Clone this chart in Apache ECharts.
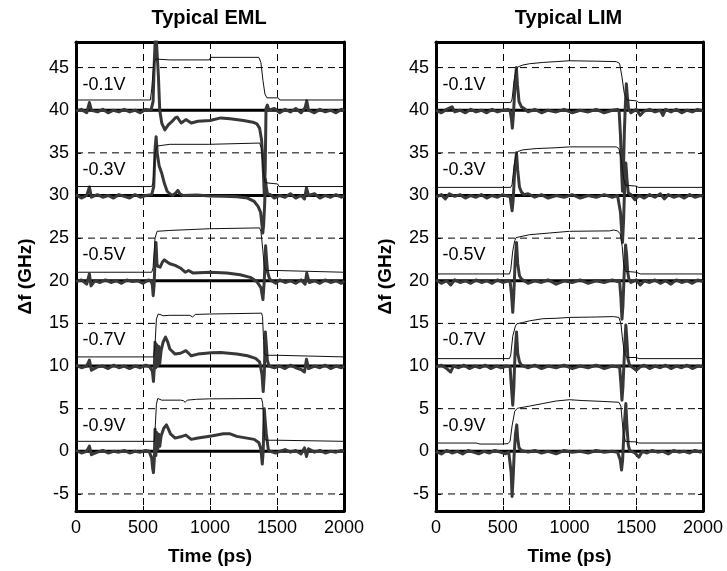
<!DOCTYPE html>
<html><head><meta charset="utf-8">
<script src="https://cdn.jsdelivr.net/npm/echarts@6/dist/echarts.min.js"></script>
<style>html,body{margin:0;padding:0;background:#fff}#c{width:727px;height:571px}</style>
</head><body><div id="c"></div>
<script>
const xTicks = [0, 500, 1000, 1500, 2000];
const yTicks = [-5, 0, 5, 10, 15, 20, 25, 30, 35, 40, 45];
const offsets = [40, 30, 20, 10, 0];
const voltages = ['-0.1V', '-0.3V', '-0.5V', '-0.7V', '-0.9V'];
const panelTitles = ['Typical EML', 'Typical LIM'];

// ---- Typical EML : thin (optical power) traces ----
const emlThin01 = [[0,41.2],[555,41.2],[565,42.5],[580,45.5],[595,46.0],[700,45.9],[995,45.9],[1005,46.2],[1365,46.2],[1380,45.6],[1395,43.5],[1410,41.9],[1425,41.45],[1510,41.45],[1520,41.2],[2000,41.2]];
const emlThin03 = [[0,31.05],[565,31.05],[575,31.5],[590,35],[605,35.8],[700,36.0],[995,36.0],[1005,36.15],[1370,36.15],[1385,35.5],[1398,33.0],[1410,31.5],[1420,31.35],[1505,31.35],[1515,31.05],[2000,31.05]];
const emlThin05 = [[0,21.0],[565,21.0],[575,21.5],[590,25],[605,25.8],[700,25.9],[850,26.0],[995,26.1],[1005,26.2],[1370,26.2],[1380,25.8],[1395,23.5],[1405,21.6],[1420,21.2],[1505,21.2],[1515,21.0],[2000,21.0]];
const emlThin07 = [[0,11.07],[580,11.07],[590,12.5],[600,15.5],[613,16.1],[635,16.0],[650,15.9],[700,15.95],[850,15.95],[870,15.75],[890,16.05],[995,16.1],[1005,16.2],[1385,16.2],[1392,15.8],[1400,13],[1405,11.4],[1420,11.26],[1505,11.26],[1515,11.07],[2000,11.07]];
const emlThin09 = [[0,1.17],[585,1.17],[592,3],[600,5.5],[610,6.2],[640,6.0],[780,6.0],[800,5.95],[815,5.75],[830,6.0],[900,6.1],[995,6.15],[1005,6.2],[1385,6.2],[1393,5.6],[1397,4.7],[1405,1.8],[1415,1.3],[1505,1.3],[1515,1.17],[2000,1.17]];

// ---- Typical EML : thick (chirp) traces ----
const emlChirp01 = [[0,39.9],[40,40.1],[80,39.7],[100,40.9],[115,40.0],[160,39.8],[200,40.1],[240,39.7],[280,40.0],[320,39.8],[360,40.1],[400,39.8],[440,40.0],[480,39.7],[520,40.1],[560,40.0],
  [575,41],[585,46],[595,49.5],[605,49.5],[615,44],[625,40],[640,38.5],[663,37.7],[690,38.3],[715,38.65],[740,39.1],[755,39.2],[785,38.5],[820,38.9],[860,38.5],[910,38.7],[1000,38.8],[1080,39.1],[1150,39.0],[1250,38.8],[1320,38.6],[1350,38.4],[1370,37.9],[1385,36.5],[1395,34],[1405,30.2],[1412,33],[1418,40.2],[1428,40.6],[1440,40.0],
  [1450,39.8],[1480,40.2],[1520,39.7],[1560,40.1],[1600,39.8],[1640,40.2],[1680,39.7],[1710,40.3],[1722,41.1],[1735,40.0],[1780,39.7],[1820,40.1],[1860,39.8],[1900,40.0],[1940,39.7],[1980,40.1],[2000,39.9]];
const emlChirp03 = [[0,30.1],[40,29.7],[80,30.0],[100,31.0],[115,29.8],[160,30.1],[200,29.8],[240,30.0],[280,29.7],[320,30.1],[360,29.9],[400,29.7],[440,30.1],[480,29.8],[520,30.0],[565,30.1],
  [580,31],[590,35.5],[598,36.9],[606,35],[620,33.5],[640,32.6],[660,31.4],[680,30.5],[700,30.2],[720,30.0],[745,30.3],[760,30.6],[775,30.2],[800,30.0],[900,30.05],[1000,29.95],[1100,29.9],[1200,29.85],[1280,29.7],[1330,29.3],[1360,28.7],[1378,28.0],[1388,26.5],[1394,25.6],[1400,26.5],[1408,29],[1414,31.9],[1420,31.0],[1428,30.2],
  [1450,30.1],[1480,29.7],[1520,30.0],[1560,29.8],[1600,30.2],[1640,29.7],[1680,30.0],[1705,29.6],[1720,30.9],[1735,30.0],[1780,30.2],[1820,29.7],[1860,30.0],[1900,29.8],[1940,30.1],[1980,29.8],[2000,30.0]];
const emlChirp05 = [[0,19.9],[40,20.1],[80,19.6],[100,20.8],[112,19.4],[140,20.0],[180,19.8],[220,20.1],[260,19.8],[300,20.0],[340,19.7],[380,20.1],[420,19.9],[460,20.0],[500,19.7],[540,20.1],[560,20.0],
  [570,19.5],[576,18.25],[583,19.5],[590,22.5],[597,24.5],[604,22],[610,21.7],[628,21.6],[645,22.2],[660,22.45],[680,22.2],[700,22.0],[740,21.8],[778,21.5],[815,21.0],[840,21.2],[875,20.9],[1000,21.0],[1125,20.9],[1225,20.7],[1300,20.4],[1350,19.9],[1380,19.2],[1395,17.8],[1405,20],[1415,24.1],[1422,22.5],[1430,21.0],[1445,20.2],
  [1460,20.0],[1490,19.7],[1520,20.1],[1560,19.8],[1600,20.0],[1640,19.7],[1680,20.1],[1710,19.6],[1722,20.9],[1740,19.8],[1780,20.0],[1820,19.7],[1860,20.1],[1900,19.8],[1940,20.0],[1980,19.7],[2000,20.0]];
const emlChirp07 = [[0,10.1],[40,9.8],[80,10.0],[100,10.7],[115,9.5],[160,9.9],[200,10.0],[240,9.7],[280,10.1],[320,9.8],[360,10.0],[400,9.7],[440,10.0],[480,9.8],[520,10.1],[550,9.9],
  [562,10.0],[570,9.4],[578,8.2],[585,10],[590,12.8],[596,9.8],[603,12.5],[610,10.0],[618,12.3],[625,10.3],[635,11.8],[650,12.8],[668,13.4],[685,12.8],[700,12.0],[740,11.4],[780,11.5],[820,11.8],[840,11.5],[860,11.2],[910,11.4],[1010,11.55],[1080,11.6],[1200,11.4],[1280,11.2],[1340,10.9],[1370,10.5],[1388,9.0],[1397,7.0],[1405,9],[1413,14.0],[1420,12.5],[1428,10.7],[1440,10.0],
  [1450,10.1],[1480,9.8],[1520,10.0],[1560,9.7],[1600,10.1],[1640,9.8],[1680,9.6],[1705,9.3],[1720,10.8],[1735,9.7],[1780,10.0],[1820,9.8],[1860,10.1],[1900,9.7],[1940,10.0],[1980,9.8],[2000,10.0]];
const emlChirp09 = [[0,0.1],[40,-0.2],[80,0.0],[100,0.6],[115,-0.4],[160,-0.1],[200,0.1],[240,-0.2],[280,0.0],[320,-0.1],[360,0.1],[400,-0.2],[440,0.0],[480,-0.1],[520,0.1],[545,0.0],
  [555,0.0],[565,-0.8],[572,-2.0],[578,-2.5],[584,-1],[590,2.6],[596,-0.5],[603,2.2],[610,0.2],[618,2.0],[625,0.6],[635,1.8],[655,2.7],[675,3.1],[690,2.6],[705,2.05],[740,1.55],[780,1.7],[820,1.9],[860,1.4],[910,1.55],[1010,1.8],[1100,2.05],[1150,2.05],[1200,1.75],[1330,1.4],[1365,1.0],[1380,0.25],[1390,-1.5],[1397,0],[1405,5.0],[1412,3.5],[1420,2.1],[1435,0.2],[1450,0.0],
  [1460,0.1],[1490,-0.2],[1520,0.0],[1560,0.2],[1600,-0.1],[1640,0.1],[1680,-0.3],[1705,0.4],[1720,-0.6],[1735,0.3],[1780,-0.1],[1820,0.1],[1860,-0.2],[1900,0.0],[1940,-0.1],[1980,0.1],[2000,0.0]];

// ---- Typical LIM : thin traces ----
const limThin01 = [[0,40.9],[560,40.9],[570,41.3],[585,43.5],[600,44.7],[612,45.06],[650,45.3],[700,45.45],[800,45.6],[900,45.7],[1000,45.8],[1200,45.75],[1350,45.7],[1375,45.5],[1392,44.0],[1410,42],[1428,41.2],[1500,41.1],[1520,40.9],[2000,40.9]];
const limThin03 = [[0,30.95],[560,30.95],[570,31.3],[585,33.5],[600,34.8],[612,35.15],[650,35.35],[750,35.5],[900,35.6],[1000,35.7],[1350,35.7],[1370,35.5],[1390,34],[1405,32],[1420,31.2],[1500,31.1],[1515,30.95],[2000,30.95]];
const limThin05 = [[0,20.8],[550,20.8],[560,21.3],[575,23.5],[590,24.7],[600,25.06],[700,25.4],[850,25.6],[1000,25.8],[1300,25.85],[1330,25.95],[1360,25.85],[1380,25.5],[1395,24],[1405,22],[1420,21.1],[1500,21.0],[1530,20.8],[2000,20.8]];
const limThin07 = [[0,10.87],[550,10.87],[560,11.3],[575,13.5],[595,14.7],[606,14.95],[650,15.1],[700,15.3],[800,15.55],[900,15.6],[1000,15.7],[1200,15.75],[1330,15.8],[1370,15.7],[1385,15.0],[1395,13.5],[1410,11.6],[1430,11.0],[1500,11.0],[1520,10.87],[2000,10.87]];
const limThin09 = [[0,0.97],[300,0.97],[330,0.85],[490,0.85],[540,0.9],[555,1.2],[570,3],[590,4.7],[610,5.05],[700,5.3],[800,5.6],[900,5.9],[1000,6.05],[1100,5.95],[1250,5.85],[1370,5.75],[1385,5.3],[1395,3.5],[1405,2],[1420,1.15],[1500,1.1],[1520,0.97],[2000,0.97]];

// ---- Typical LIM : thick (chirp) traces ----
const limChirp01 = [[0,40.0],[40,39.7],[80,40.1],[120,40.4],[140,39.8],[180,40.0],[220,39.7],[260,40.1],[300,39.8],[340,40.0],[380,39.7],[420,40.1],[460,39.8],[500,40.0],[540,40.1],
  [555,39.9],[565,39.0],[572,37.9],[580,39.5],[592,43],[602,45.0],[610,43],[622,41],[640,40.4],[660,40.2],
  [690,39.8],[740,40.1],[790,39.7],[840,40.0],[900,39.8],[960,40.1],[1020,39.7],[1080,40.0],[1140,39.8],[1200,40.1],[1260,39.7],[1320,40.0],[1360,40.1],
  [1372,39.8],[1382,37],[1390,33],[1397,30.5],[1404,33],[1411,37.5],[1418,40.5],[1426,43.1],[1434,41.5],[1442,40.2],
  [1460,39.7],[1500,40.1],[1530,39.4],[1560,39.9],[1600,40.1],[1640,39.8],[1680,40.0],[1700,39.4],[1720,40.1],[1760,39.8],[1800,40.1],[1840,39.7],[1880,40.0],[1920,39.8],[1960,40.1],[2000,39.9]];
const limChirp03 = [[0,29.8],[40,30.1],[70,29.6],[100,30.2],[140,29.9],[180,30.1],[220,29.7],[260,30.0],[300,29.8],[340,30.1],[380,29.7],[420,30.0],[460,29.8],[500,30.1],[540,29.9],
  [555,29.9],[563,29],[570,28.2],[578,29.5],[590,33],[603,35.0],[612,33],[625,31],[640,30.4],[660,30.1],
  [690,30.2],[740,29.8],[790,30.1],[840,29.7],[900,30.0],[960,29.8],[1020,30.1],[1080,29.7],[1140,30.0],[1200,29.8],[1260,30.1],[1320,29.8],[1360,30.0],
  [1372,29.8],[1382,28],[1390,26],[1397,24.5],[1405,27],[1413,31],[1422,33.8],[1430,32],[1440,30.3],
  [1460,30.1],[1490,29.5],[1520,30.0],[1560,29.7],[1600,30.1],[1640,29.8],[1680,30.2],[1710,29.6],[1740,30.1],[1780,29.8],[1820,30.0],[1860,29.7],[1900,30.1],[1940,29.8],[1980,30.0],[2000,29.9]];
const limChirp05 = [[0,20.1],[40,19.7],[80,20.0],[110,19.5],[140,20.1],[180,19.8],[220,20.0],[260,19.7],[300,20.1],[340,19.8],[380,20.0],[420,19.7],[460,20.1],[500,19.8],[540,20.0],
  [555,19.9],[565,18.5],[575,16.3],[583,18.5],[592,22],[603,24.5],[612,22],[625,20.6],[640,20.2],
  [690,19.7],[740,20.0],[790,19.8],[840,20.1],[900,19.6],[960,20.0],[1020,19.8],[1080,20.1],[1140,19.7],[1200,20.0],[1260,19.8],[1320,20.1],[1360,19.9],
  [1375,20.0],[1385,18],[1393,15.5],[1400,17],[1410,21],[1420,24.2],[1428,23],[1436,21],[1445,20.2],
  [1460,19.8],[1500,20.1],[1530,19.5],[1560,20.0],[1600,19.8],[1640,20.1],[1680,19.7],[1720,20.0],[1760,19.6],[1800,20.1],[1840,19.8],[1880,20.0],[1920,19.7],[1960,20.1],[2000,19.9]];
const limChirp07 = [[0,9.9],[40,10.1],[80,9.7],[110,9.3],[130,10.0],[170,9.8],[210,10.1],[250,9.7],[290,10.0],[330,9.8],[370,10.1],[410,9.7],[450,10.0],[490,9.8],[530,10.0],
  [555,9.9],[565,7.5],[575,5.4],[583,7.5],[592,11.5],[603,14.0],[612,11.5],[625,10.5],[640,10.1],
  [690,9.8],[740,10.1],[790,9.7],[840,10.0],[900,9.8],[960,10.1],[1020,9.7],[1080,10.0],[1140,9.8],[1200,10.1],[1260,9.7],[1320,10.0],[1360,9.9],
  [1375,10.0],[1385,8],[1393,6.0],[1400,7.5],[1410,11],[1422,14.8],[1430,13],[1438,10.8],[1450,10.1],
  [1460,10.0],[1500,9.5],[1530,9.9],[1560,10.1],[1600,9.7],[1640,10.0],[1680,9.8],[1720,10.1],[1760,9.7],[1800,10.0],[1840,9.8],[1880,10.1],[1920,9.7],[1960,10.0],[2000,9.9]];
const limChirp09 = [[0,0.0],[40,-0.3],[80,0.1],[120,-0.2],[160,0.0],[200,-0.3],[240,0.1],[280,-0.1],[320,-0.3],[360,0.0],[400,-0.2],[440,0.1],[480,-0.1],[520,-0.3],[545,-0.1],
  [555,-0.1],[563,-2.5],[570,-5.3],[578,-3],[585,-0.5],[595,2.0],[605,3.1],[612,1.5],[622,0.4],[640,0.1],
  [690,-0.1],[740,0.1],[790,-0.2],[840,0.0],[900,-0.3],[960,0.1],[1020,-0.1],[1080,0.0],[1140,-0.2],[1200,0.1],[1260,-0.1],[1320,0.0],[1360,-0.1],
  [1370,0.0],[1380,-1],[1390,-2.2],[1398,-1],[1410,3],[1422,5.6],[1430,3],[1440,0.8],[1450,0.1],
  [1460,0.0],[1490,-0.2],[1520,-0.7],[1545,0.0],[1580,-0.2],[1620,0.1],[1660,-0.1],[1700,0.0],[1740,-0.3],[1780,0.1],[1820,-0.1],[1860,0.0],[1900,-0.2],[1940,0.1],[1980,-0.1],[2000,0.0]];

const emlThin = [emlThin01, emlThin03, emlThin05, emlThin07, emlThin09];
const emlChirp = [emlChirp01, emlChirp03, emlChirp05, emlChirp07, emlChirp09];
const limThin = [limThin01, limThin03, limThin05, limThin07, limThin09];
const limChirp = [limChirp01, limChirp03, limChirp05, limChirp07, limChirp09];

const FONT = '"Liberation Sans", Arial, Helvetica, sans-serif';
const chart = echarts.init(document.getElementById('c'), null, {renderer: 'canvas'});

const grids = [
  {left: 76, top: 42, width: 268, height: 471},
  {left: 436, top: 42, width: 267, height: 471}
];
const XMIN = 0, XMAX = 2000, YMIN = -7, YMAX = 48;
const border = {show: true, onZero: false, lineStyle: {color: '#000', width: 3}};
const dash = [7, 5];

const xAxes = [], yAxes = [];
grids.forEach((g, i) => {
  xAxes.push({gridIndex: i, type: 'value', min: XMIN, max: XMAX, interval: 500, position: 'bottom',
    axisLine: border, axisTick: {show: true, inside: true, length: 5, lineStyle: {color: '#000', width: 1}},
    axisLabel: {color: '#000', fontSize: 18, fontFamily: FONT, margin: 8, formatter: v => String(v)},
    splitLine: {show: true, lineStyle: {color: '#000', width: 1, type: dash}},
    name: 'Time (ps)', nameLocation: 'middle', nameGap: 36,
    nameTextStyle: {color: '#000', fontSize: 19, fontWeight: 'bold', fontFamily: FONT}});
  xAxes.push({gridIndex: i, type: 'value', min: XMIN, max: XMAX, interval: 500, position: 'top',
    axisLine: border, axisTick: {show: true, inside: true, length: 5, lineStyle: {color: '#000', width: 1}},
    axisLabel: {show: false}, splitLine: {show: false}});
  yAxes.push({gridIndex: i, type: 'value', min: YMIN, max: YMAX, position: 'left',
    axisLine: border,
    axisTick: {show: true, inside: true, length: 5, lineStyle: {color: '#000', width: 1}, customValues: yTicks},
    axisLabel: {color: '#000', fontSize: 18, fontFamily: FONT, margin: 7, customValues: yTicks, formatter: v => String(v)},
    splitLine: {show: false},
    name: 'Δf (GHz)', nameLocation: 'middle', nameGap: 41,
    nameTextStyle: {color: '#000', fontSize: 19, fontWeight: 'bold', fontFamily: FONT}});
  yAxes.push({gridIndex: i, type: 'value', min: YMIN, max: YMAX, position: 'right',
    axisLine: border,
    axisTick: {show: true, inside: true, length: 5, lineStyle: {color: '#000', width: 1}, customValues: yTicks},
    axisLabel: {show: false}, splitLine: {show: false}});
});

const series = [];
const panels = [{thin: emlThin, chirp: emlChirp}, {thin: limThin, chirp: limChirp}];
panels.forEach((p, i) => {
  const xi = i * 2, yi = i * 2;
  // dashed horizontal grid lines at tick values
  yTicks.forEach(v => series.push({type: 'line', xAxisIndex: xi, yAxisIndex: yi, silent: true, symbol: 'none', z: 1,
    data: [[XMIN, v], [XMAX, v]], lineStyle: {color: '#000', width: 1, type: dash}}));
  // solid zero reference line for each trace
  offsets.forEach(o => series.push({type: 'line', xAxisIndex: xi, yAxisIndex: yi, silent: true, symbol: 'none', z: 2,
    data: [[XMIN, o], [XMAX, o]], lineStyle: {color: '#000', width: 3}}));
  p.chirp.forEach(d => series.push({type: 'line', xAxisIndex: xi, yAxisIndex: yi, symbol: 'none', z: 3, clip: true,
    data: d, lineStyle: {color: '#383838', width: 3, join: 'round'}}));
  p.thin.forEach(d => series.push({type: 'line', xAxisIndex: xi, yAxisIndex: yi, symbol: 'none', z: 4, clip: true,
    data: d, lineStyle: {color: '#111', width: 1}}));
  series.push({type: 'scatter', xAxisIndex: xi, yAxisIndex: yi, symbolSize: 1, z: 6, silent: true,
    itemStyle: {color: '#000', opacity: 0},
    data: offsets.map((o, k) => ({value: [45, o + 3], name: voltages[k]})),
    label: {show: true, position: 'right', distance: 0, formatter: q => q.name, opacity: 1,
      color: '#000', fontSize: 18, fontFamily: FONT}});
});

chart.setOption({
  animation: false,
  backgroundColor: '#fff',
  title: panelTitles.map((t, i) => ({text: t, left: grids[i].left + grids[i].width / 2 - 1, top: 8, textAlign: 'center', padding: 0,
    textStyle: {color: '#000', fontSize: 20, fontWeight: 'bold', fontFamily: FONT}})),
  grid: grids,
  xAxis: xAxes,
  yAxis: yAxes,
  series: series
});
</script></body></html>
